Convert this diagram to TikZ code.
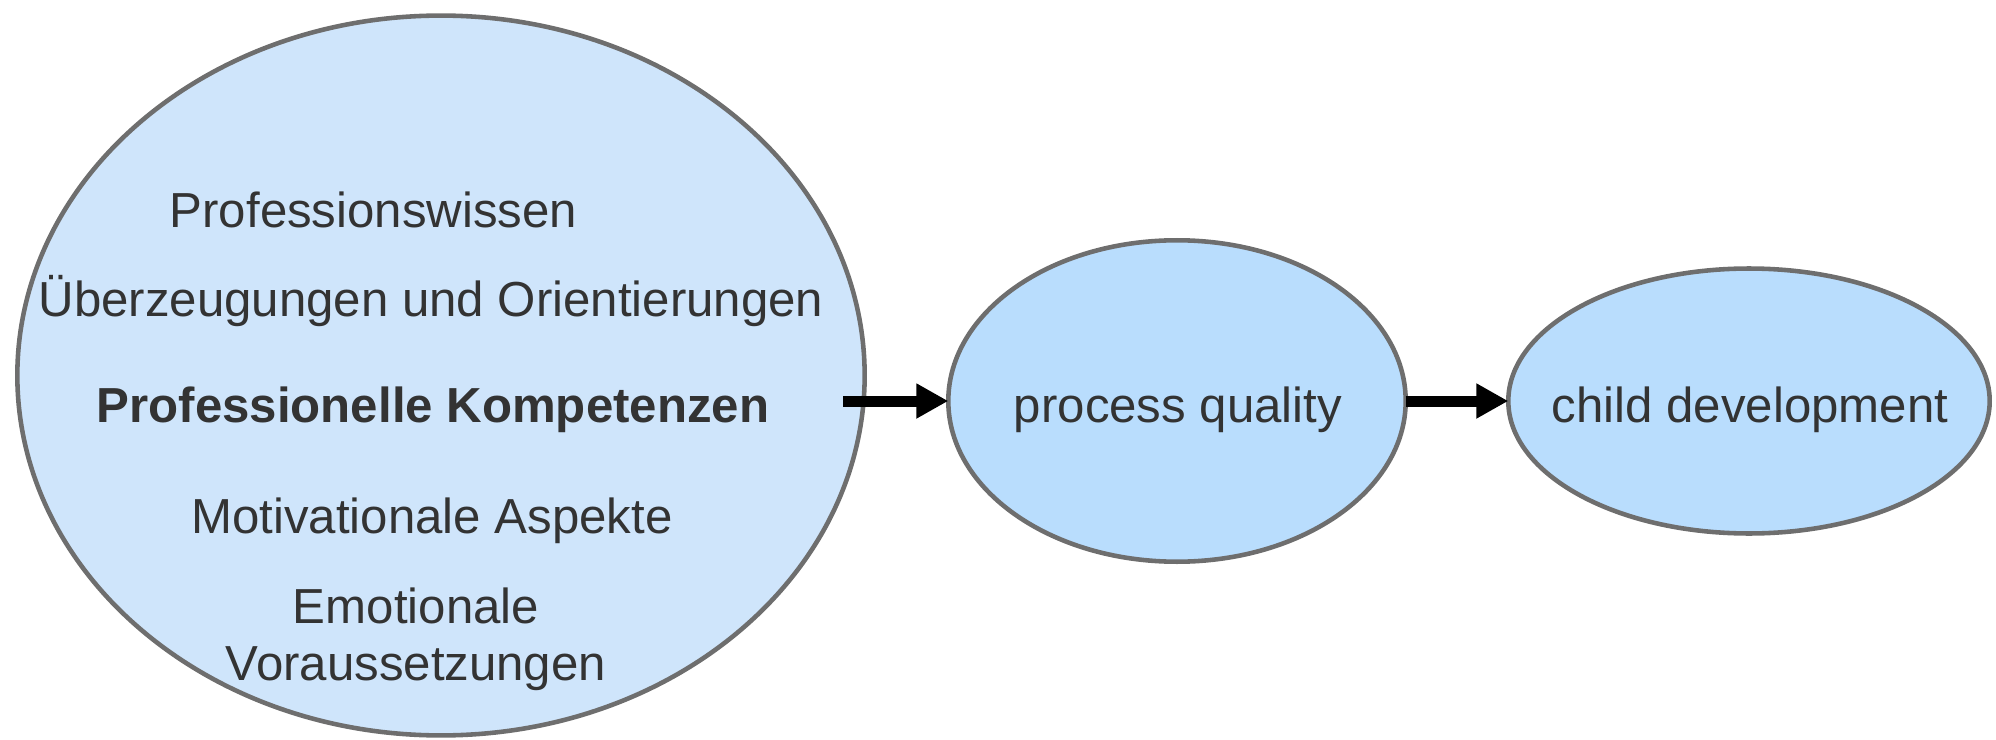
\documentclass[tikz,border=0pt]{standalone}
\usepackage{fontspec}
\setmainfont{Liberation Sans}
\usetikzlibrary{arrows.meta,shapes.geometric}
\definecolor{bigfill}{HTML}{CFE5FB}
\definecolor{smallfill}{HTML}{B9DDFD}
\definecolor{rim}{HTML}{6E6E6E}
\definecolor{ink}{HTML}{333333}
\tikzset{
  blob/.style={ellipse, draw=rim, line width=2.6pt, inner sep=0pt, outer sep=0pt},
  lbl/.style={text=ink, inner sep=0pt, anchor=base, font=\fontsize{28}{34}\selectfont},
  flow/.style={line width=0.22cm, -{Triangle[length=0.64cm,width=0.66cm]}}
}
\begin{document}
\begin{tikzpicture}[x=0.02cm,y=-0.02cm]
\useasboundingbox (0,0) rectangle (1996,740);
\node[blob, fill=bigfill, minimum width=16.95cm, minimum height=14.4cm] (comp) at (441,375.5) {};
\node[blob, fill=smallfill, minimum width=9.15cm, minimum height=6.43cm] (pq) at (1177,401) {};
\node[blob, fill=smallfill, minimum width=9.63cm, minimum height=5.3cm] (cd) at (1749,401) {};
\node[lbl] (t1) at (373.5,228) {Professionswissen};
\node[lbl] (t2) at (431,316) {Überzeugungen und Orientierungen};
\node[lbl, font=\fontsize{28}{34}\selectfont\bfseries] (t3) at (433,422) {Professionelle Kompetenzen};
\node[lbl] (t4) at (432,533) {Motivationale Aspekte};
\node[lbl] (t5) at (416,623) {Emotionale};
\node[lbl] (t6) at (416,680) {Voraussetzungen};
\node[lbl] (l1) at (1178,422) {process quality};
\node[lbl] (l2) at (1750,422) {child development};
\coordinate (s1) at (843,401);
\draw[flow] (s1) -- (pq.west);
\draw[flow] (pq.east) -- (cd.west);
\end{tikzpicture}
\end{document}
